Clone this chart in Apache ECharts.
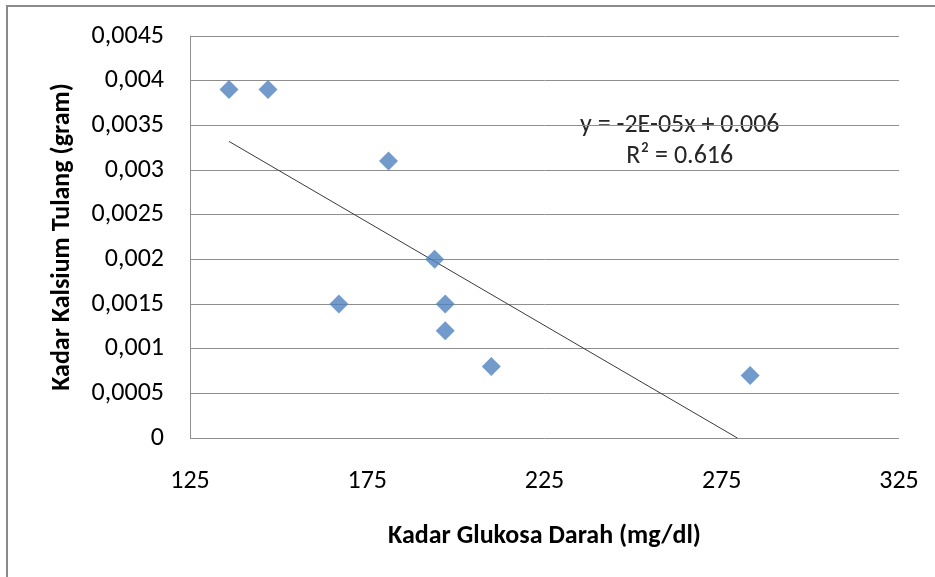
<!DOCTYPE html>
<html>
<head>
<meta charset="utf-8">
<script src="https://cdn.jsdelivr.net/npm/echarts@6/dist/echarts.min.js"></script>
<style>
  html, body { margin: 0; padding: 0; background: #fff; }
  #chart { width: 935px; height: 577px; }
</style>
</head>
<body>
<div id="chart"></div>
<script>
// glukosa darah (mg/dl) vs kalsium tulang (gram)
const glukosa = [136, 147, 181, 194, 167, 197, 197, 210, 283];
const kalsium = [0.0039, 0.0039, 0.0031, 0.002, 0.0015, 0.0015, 0.0012, 0.0008, 0.0007];

// linear trendline ends as drawn (clipped at y = 0)
const trendX = [136, 279.4];
const trendY = [0.00332, 0];

const trendLabel = ['y = -2E-05x + 0.006', 'R\u00b2 = 0.616'];

const font = "Carlito, 'Open Sans', 'Liberation Sans', sans-serif";
const gridColor = '#8e8e8e';

const chart = echarts.init(document.getElementById('chart'));

chart.setOption({
  animation: false,
  backgroundColor: '#fff',
  grid: { left: 190, right: 36, top: 36, bottom: 139 },
  xAxis: {
    type: 'value',
    min: 125,
    max: 325,
    interval: 50,
    name: 'Kadar Glukosa Darah (mg/dl)',
    nameLocation: 'middle',
    nameGap: 85,
    nameTextStyle: { fontFamily: font, fontSize: 26, fontWeight: 'bold', color: '#000' },
    axisLine: { show: false },
    axisTick: { show: false },
    splitLine: { show: false },
    axisLabel: { fontFamily: font, fontSize: 26, color: '#000', margin: 30 }
  },
  yAxis: {
    type: 'value',
    min: 0,
    max: 0.0045,
    interval: 0.0005,
    name: 'Kadar Kalsium Tulang (gram)',
    nameLocation: 'middle',
    nameGap: 115,
    nameTextStyle: { fontFamily: font, fontSize: 26, fontWeight: 'bold', color: '#000' },
    axisLine: { show: true, lineStyle: { color: gridColor, width: 1 } },
    axisTick: { show: false },
    splitLine: { show: true, lineStyle: { color: gridColor, width: 1 } },
    axisLabel: {
      fontFamily: font, fontSize: 26, color: '#000', margin: 26,
      formatter: v => v === 0 ? '0' : String(+v.toFixed(4)).replace('.', ',')
    }
  },
  series: [
    {
      type: 'scatter',
      symbol: 'diamond',
      symbolSize: 19,
      itemStyle: { color: '#4f81bd' },
      data: glukosa.map((g, i) => [g, kalsium[i]]),
      z: 3
    },
    {
      type: 'line',
      symbol: 'none',
      lineStyle: { color: '#3a3a3a', width: 1 },
      data: trendX.map((x, i) => [x, trendY[i]]),
      z: 2
    }
  ],
  graphic: [
    {
      type: 'rect',
      shape: { x: 7, y: 6, width: 960, height: 620 },
      style: { fill: 'none', stroke: '#8a8a8a', lineWidth: 2 },
      silent: true
    },
    {
      type: 'text',
      left: 580,
      top: 110,
      style: {
        text: trendLabel.join('\n'),
        textAlign: 'center',
        fontFamily: font,
        fontSize: 26,
        lineHeight: 31,
        fill: '#262626'
      }
    }
  ]
});
</script>
</body>
</html>
